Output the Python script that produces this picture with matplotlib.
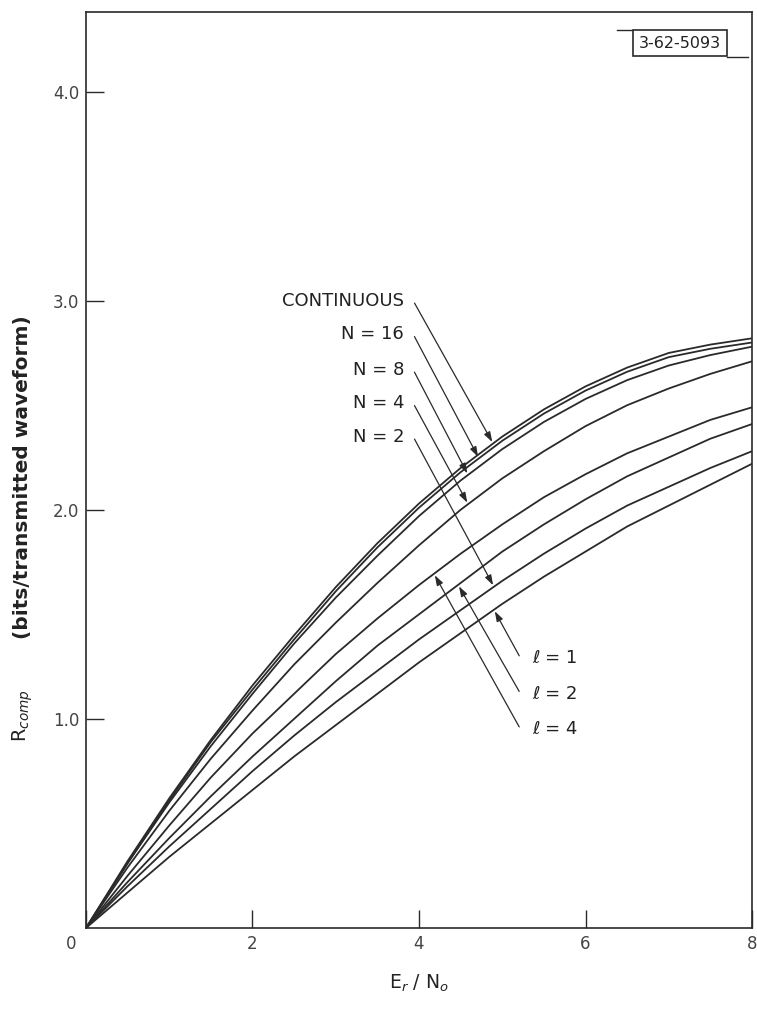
import matplotlib
matplotlib.use("Agg")
import matplotlib.pyplot as plt
import numpy as np
from matplotlib.lines import Line2D

plt.rcParams['font.family'] = ['DejaVu Sans']

# E_r / N_o sample points
er_no = [0.0, 0.5, 1.0, 1.5, 2.0, 2.5, 3.0, 3.5, 4.0, 4.5, 5.0, 5.5, 6.0, 6.5, 7.0, 7.5, 8.0]

# R_comp curves
r_continuous = [0, 0.32, 0.62, 0.90, 1.16, 1.40, 1.63, 1.84, 2.03, 2.20, 2.35, 2.48, 2.59, 2.68, 2.75, 2.79, 2.82]
r_n16 = [0, 0.31, 0.61, 0.89, 1.14, 1.38, 1.61, 1.82, 2.01, 2.18, 2.33, 2.46, 2.57, 2.66, 2.73, 2.77, 2.80]
r_n8 = [0, 0.31, 0.60, 0.87, 1.12, 1.36, 1.58, 1.78, 1.97, 2.14, 2.29, 2.42, 2.53, 2.62, 2.69, 2.74, 2.78]
r_n4 = [0, 0.29, 0.56, 0.81, 1.04, 1.26, 1.46, 1.65, 1.83, 2.00, 2.15, 2.28, 2.40, 2.50, 2.58, 2.65, 2.71]
r_l4 = [0, 0.25, 0.49, 0.72, 0.93, 1.12, 1.31, 1.48, 1.64, 1.79, 1.93, 2.06, 2.17, 2.27, 2.35, 2.43, 2.49]
r_l2 = [0, 0.22, 0.43, 0.63, 0.82, 1.00, 1.18, 1.35, 1.50, 1.65, 1.80, 1.93, 2.05, 2.16, 2.25, 2.34, 2.41]
r_n2 = [0, 0.20, 0.39, 0.57, 0.75, 0.92, 1.08, 1.23, 1.38, 1.52, 1.66, 1.79, 1.91, 2.02, 2.11, 2.20, 2.28]
r_l1 = [0, 0.17, 0.34, 0.50, 0.66, 0.82, 0.97, 1.12, 1.27, 1.41, 1.55, 1.68, 1.80, 1.92, 2.02, 2.12, 2.22]

# labels on the left (text, text y, arrow tip x)
upper_labels = ['CONTINUOUS', 'N = 16', 'N = 8', 'N = 4', 'N = 2']
upper_curves = [r_continuous, r_n16, r_n8, r_n4, r_n2]
upper_text_y = [3.00, 2.84, 2.67, 2.51, 2.35]
upper_tip_x = [4.88, 4.71, 4.58, 4.58, 4.89]

lower_labels = ['ℓ = 1', 'ℓ = 2', 'ℓ = 4']
lower_curves = [r_l1, r_l2, r_l4]
lower_text_y = [1.29, 1.12, 0.95]
lower_tip_x = [4.91, 4.48, 4.19]

fig = plt.figure(figsize=(7.57, 10.10), dpi=100)
ax = fig.add_axes([0.1136, 0.0812, 0.8798, 0.9068])

line_col = '#2a2a2a'
for r in [r_continuous, r_n16, r_n8, r_n4, r_l4, r_l2, r_n2, r_l1]:
    ax.plot(er_no, r, color=line_col, lw=1.3, solid_capstyle='round')

arrow_kw = dict(arrowstyle='-|>,head_length=0.6,head_width=0.2', color=line_col, lw=0.9,
                shrinkA=2, shrinkB=0)
for lab, r, ty, tx in zip(upper_labels, upper_curves, upper_text_y, upper_tip_x):
    ax.annotate('', xy=(tx, np.interp(tx, er_no, r) + 0.01), xytext=(3.93, ty),
                arrowprops=arrow_kw)
    ax.text(3.82, ty, lab, ha='right', va='center', fontsize=13, color='#222222')

for lab, r, ty, tx in zip(lower_labels, lower_curves, lower_text_y, lower_tip_x):
    ax.annotate('', xy=(tx, np.interp(tx, er_no, r) - 0.01), xytext=(5.22, ty),
                arrowprops=arrow_kw)
    ax.text(5.36, ty, lab, ha='left', va='center', fontsize=13, color='#222222')

ax.set_xlim(0, 8)
ax.set_ylim(0, 4.38)
ax.set_xticks([0, 2, 4, 6, 8])
ax.set_xticklabels(['', '2', '4', '6', '8'])
ax.set_yticks([1, 2, 3, 4])
ax.set_yticklabels(['1.0', '2.0', '3.0', '4.0'])
ax.tick_params(direction='in', length=13, width=1, color=line_col, labelsize=12,
               labelcolor='#444444')
ax.tick_params(axis='x', pad=5)
ax.tick_params(axis='y', pad=5)
ax.annotate('0', xy=(0, 0), xytext=(-11, -5), textcoords='offset points',
            ha='center', va='top', fontsize=12, color='#444444')
for s in ax.spines.values():
    s.set_color(line_col)
    s.set_linewidth(1.2)

ax.set_xlabel('E$_r$ / N$_o$', fontsize=13.5, labelpad=14, color='#222222')

# y label: thin R_comp, bold units
fig.text(0.030, 0.292, 'R$_{comp}$', rotation=90, ha='center', va='center',
         fontsize=14, color='#222222')
fig.text(0.030, 0.528, '(bits/transmitted waveform)', rotation=90, ha='center',
         va='center', fontsize=14.5, fontweight='bold', color='#222222')

# drawing number tag at top right
ax.text(0.892, 0.966, '3-62-5093', transform=ax.transAxes, ha='center', va='center',
        fontsize=11.5, color='#222222',
        bbox=dict(boxstyle='square,pad=0.35', fc='white', ec=line_col, lw=1.2))
ax.add_line(Line2D([0.797, 0.822], [0.981, 0.981], transform=ax.transAxes,
                   color=line_col, lw=1.0, clip_on=False))
ax.add_line(Line2D([0.962, 0.994], [0.951, 0.951], transform=ax.transAxes,
                   color=line_col, lw=1.0, clip_on=False))

fig.savefig('out.png', dpi=100)
